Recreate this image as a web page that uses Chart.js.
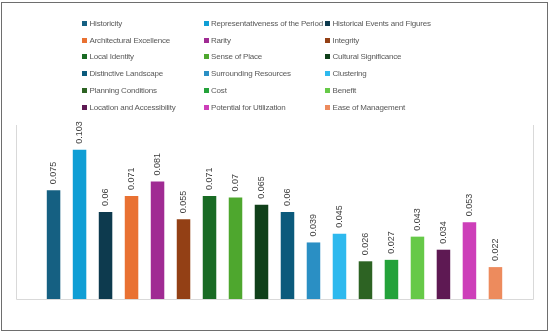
<!DOCTYPE html>
<html>
<head>
<meta charset="utf-8">
<script src="https://cdn.jsdelivr.net/npm/chart.js@4"></script>
<style>
  body { margin: 0; padding: 0; background: #fff; }
  #wrap { position: relative; width: 550px; height: 334px; }
  #frame { position: absolute; left: 1px; top: 2px; width: 545px; height: 327px; border: 1.5px solid #6e6e6e; pointer-events: none; }
  #legend {
    position: absolute; left: 82px; top: 15px;
    display: grid; grid-template-columns: 121.5px 121.5px 140px; grid-auto-rows: 16.75px;
    font-family: "Liberation Sans", Arial, sans-serif; font-size: 8px; letter-spacing: -0.2px; color: #595959;
  }
  #legend div { display: flex; align-items: center; white-space: nowrap; }
  #legend span.box { display: inline-block; flex: 0 0 5px; width: 5px; height: 5px; margin-right: 2.5px; }
</style>
</head>
<body>
<div id="wrap">
  <canvas id="myChart" width="550" height="334"></canvas>
  <div id="legend"></div>
  <div id="frame"></div>
</div>
<script>
// criteria and their weights
const criteria = [
  "Historicity", "Representativeness of the Period", "Historical Events and Figures",
  "Architectural Excellence", "Rarity", "Integrity",
  "Local Identity", "Sense of Place", "Cultural Significance",
  "Distinctive Landscape", "Surrounding Resources", "Clustering",
  "Planning Conditions", "Cost", "Benefit",
  "Location and Accessibility", "Potential for Utilization", "Ease of Management"
];
const weights = [0.075, 0.103, 0.06, 0.071, 0.081, 0.055, 0.071, 0.07, 0.065,
                 0.06, 0.039, 0.045, 0.026, 0.027, 0.043, 0.034, 0.053, 0.022];
const colors = [
  "#156082", "#0f9ed5", "#0d3a4e", "#e97132", "#a02b93", "#934015",
  "#196b24", "#4ea72e", "#10401a", "#0b5a7c", "#2a8fc4", "#2eb9ee",
  "#2d6323", "#24a23a", "#66c948", "#5e1953", "#cd3fb9", "#ed8b5d"
];

// plot area lines (left, right, bottom) like the excel plot border
const boxLines = {
  id: "boxLines",
  beforeDatasetsDraw(chart) {
    const { ctx, chartArea: a } = chart;
    ctx.save();
    ctx.strokeStyle = "#d9d9d9";
    ctx.lineWidth = 1;
    ctx.beginPath();
    ctx.moveTo(a.left + 0.5, a.top);
    ctx.lineTo(a.left + 0.5, a.bottom + 0.5);
    ctx.lineTo(a.right + 0.5, a.bottom + 0.5);
    ctx.lineTo(a.right + 0.5, a.top);
    ctx.stroke();
    ctx.restore();
  }
};

// vertical value labels above bars
const barLabels = {
  id: "barLabels",
  afterDatasetsDraw(chart) {
    const { ctx } = chart;
    ctx.save();
    ctx.font = "9px 'Liberation Sans', Arial, sans-serif";
    ctx.fillStyle = "#404040";
    ctx.textAlign = "left";
    ctx.textBaseline = "middle";
    chart.data.datasets.forEach((ds, i) => {
      const bar = chart.getDatasetMeta(i).data[0];
      ctx.save();
      ctx.translate(bar.x, bar.y - 6);
      ctx.rotate(-Math.PI / 2);
      ctx.fillText(String(ds.data[0]), 0, 0);
      ctx.restore();
    });
    ctx.restore();
  }
};

const chart = new Chart(document.getElementById("myChart"), {
  type: "bar",
  data: {
    labels: [""],
    datasets: criteria.map((name, i) => ({
      label: name,
      data: [weights[i]],
      backgroundColor: colors[i],
      categoryPercentage: 0.905,
      barPercentage: 0.52
    }))
  },
  options: {
    responsive: false,
    animation: false,
    layout: { padding: { left: 16, right: 17, top: 125, bottom: 35 } },
    scales: {
      x: { display: false },
      y: { display: false, min: 0, max: 0.12 }
    },
    plugins: {
      legend: { display: false },
      tooltip: { enabled: false }
    }
  },
  plugins: [boxLines, barLabels]
});

// legend in three columns
const legend = document.getElementById("legend");
chart.data.datasets.forEach(ds => {
  const item = document.createElement("div");
  item.innerHTML = '<span class="box" style="background:' + ds.backgroundColor + '"></span>' + ds.label;
  legend.appendChild(item);
});
</script>
</body>
</html>
